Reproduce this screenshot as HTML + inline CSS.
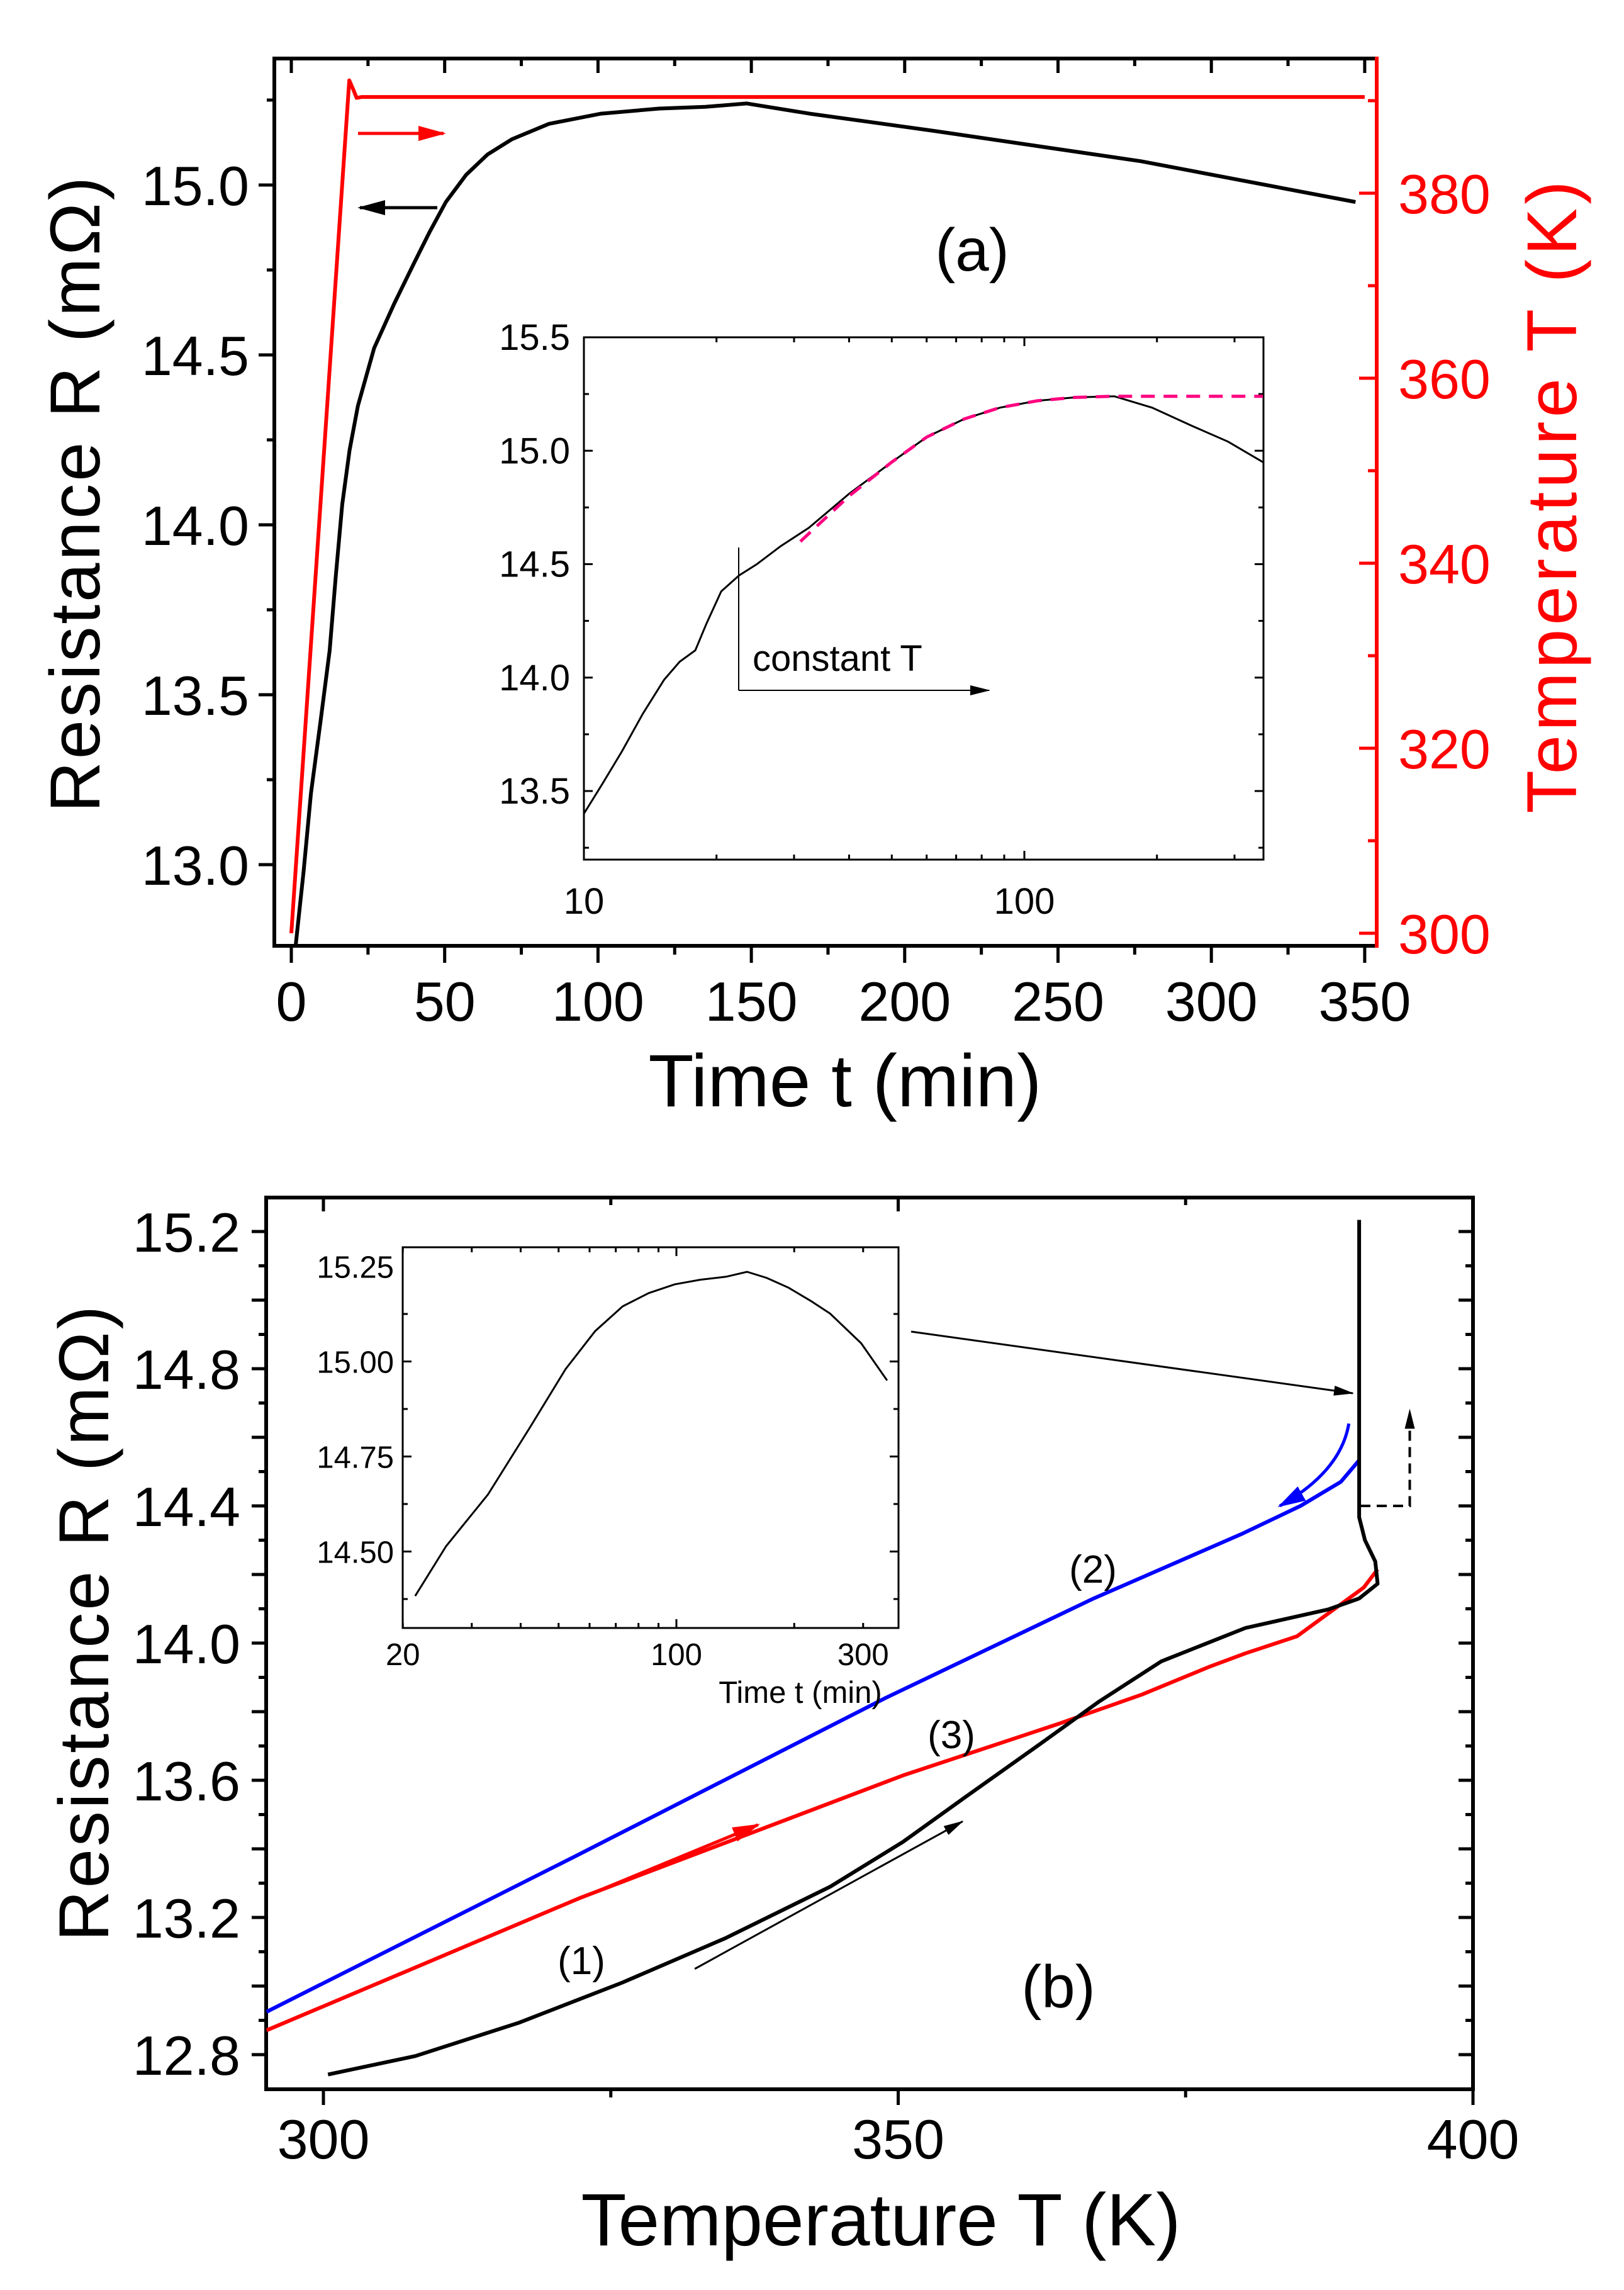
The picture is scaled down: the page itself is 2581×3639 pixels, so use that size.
<!DOCTYPE html>
<html><head><meta charset="utf-8"><style>
html,body{margin:0;padding:0;background:#fff;}
svg{display:block;font-family:"Liberation Sans",sans-serif;}
</style></head><body>
<svg id="fig" width="2581" height="3639" viewBox="0 0 2581 3639" xmlns="http://www.w3.org/2000/svg">
<defs>
<marker id="ahR" markerWidth="44" markerHeight="24" refX="40" refY="12" orient="auto" markerUnits="userSpaceOnUse" viewBox="0 0 44 24"><path d="M0,0 L44,12 L0,24 Z" fill="#ff0000"/></marker>
<marker id="ahK" markerWidth="44" markerHeight="24" refX="40" refY="12" orient="auto" markerUnits="userSpaceOnUse" viewBox="0 0 44 24"><path d="M0,0 L44,12 L0,24 Z" fill="#000"/></marker>
<marker id="ahKs" markerWidth="32" markerHeight="16" refX="30" refY="8" orient="auto" markerUnits="userSpaceOnUse" viewBox="0 0 32 16"><path d="M0,0 L32,8 L0,16 Z" fill="#000"/></marker>
<marker id="ahB" markerWidth="44" markerHeight="26" refX="40" refY="13" orient="auto" markerUnits="userSpaceOnUse" viewBox="0 0 44 26"><path d="M0,0 L44,13 L0,26 Z" fill="#0000ff"/></marker>
</defs>
</svg>
<script>
// ===== Panel (a) data =====
const aTime = [1.4, 4, 6.4, 9.5, 12.5, 14.5, 16.6, 19, 21.7, 27, 33.5, 40, 45, 50.4, 57, 64, 72, 84, 101, 120, 135, 148.5, 169, 209, 277, 347];
const aRes = [12.76, 12.98, 13.21, 13.42, 13.63, 13.85, 14.06, 14.22, 14.35, 14.52, 14.65, 14.77, 14.86, 14.95, 15.03, 15.09, 15.135, 15.18, 15.21, 15.225, 15.23, 15.24, 15.21, 15.16, 15.07, 14.95];
const aTTime = [0, 18.9, 20.2, 21.3, 23, 100, 200, 350];
const aTemp = [300, 392.2, 391.2, 390.3, 390.4, 390.4, 390.4, 390.4];
const aXTicks = [0, 50, 100, 150, 200, 250, 300, 350];
const aYTicks = [13.0, 13.5, 14.0, 14.5, 15.0];
const aTTicks = [300, 320, 340, 360, 380];
// inset (a)
const iaTime = [10, 11, 12.2, 13.6, 15.2, 16.5, 17.9, 19, 20.5, 22.5, 24.7, 28, 32.4, 40, 50, 60, 73, 88, 107, 130, 160, 195, 240, 290, 348];
const iaRes = [13.40, 13.53, 13.675, 13.84, 13.99, 14.07, 14.12, 14.24, 14.38, 14.45, 14.50, 14.58, 14.66, 14.81, 14.95, 15.06, 15.14, 15.19, 15.22, 15.235, 15.24, 15.19, 15.11, 15.04, 14.95];
const iaFitTime = [31, 40, 50, 60, 73, 88, 107, 130, 160, 348];
const iaFitRes = [14.60, 14.80, 14.95, 15.06, 15.14, 15.19, 15.22, 15.235, 15.24, 15.24];
const iaYTicks = [13.5, 14.0, 14.5, 15.0, 15.5];
const iaXTicks = [10, 100];
// ===== Panel (b) data =====
const bBlueT = [295.06, 322, 348.9, 367, 380, 385, 388.5, 390.1];
const bBlueR = [12.925, 13.38, 13.84, 14.13, 14.32, 14.40, 14.47, 14.533];
const bRedT = [295.06, 322.4, 350.4, 363.9, 371.2, 377, 380.2, 384.7, 388.3, 390.5, 391.7];
const bRedR = [12.871, 13.258, 13.614, 13.764, 13.85, 13.93, 13.97, 14.02, 14.108, 14.162, 14.215];
const bBlackT = [300.4, 308, 317, 326, 335, 344.1, 350.4, 355.8, 362.1, 367.5, 372.9, 380.2, 387.4, 390.1, 391.7, 391.5, 390.6, 390.1, 390.1];
const bBlackR = [12.742, 12.796, 12.893, 13.01, 13.14, 13.29, 13.42, 13.55, 13.70, 13.83, 13.947, 14.044, 14.098, 14.13, 14.173, 14.238, 14.30, 14.367, 15.234];
const bXTicks = [300, 350, 400];
const bYTicks = [12.8, 13.2, 13.6, 14.0, 14.4, 14.8, 15.2];
// inset (b)
const ibTime = [21.5, 25.8, 33.0, 42.1, 52.1, 62, 72.9, 85, 99, 115, 134, 151.5, 170, 193.5, 220, 247, 296.5, 345.5];
const ibRes = [14.383, 14.514, 14.65, 14.824, 14.98, 15.08, 15.145, 15.18, 15.203, 15.215, 15.223, 15.236, 15.22, 15.194, 15.16, 15.126, 15.048, 14.95];
const ibYTicks = [14.50, 14.75, 15.00, 15.25];
const ibXTicks = [20, 100, 300];

const NS = "http://www.w3.org/2000/svg";
const svg = document.getElementById('fig');
function mk(tag, attrs, parent) {
  const e = document.createElementNS(NS, tag);
  for (const k in attrs) e.setAttribute(k, attrs[k]);
  (parent || svg).appendChild(e);
  return e;
}
function ln(x1, y1, x2, y2, c, w) {
  return mk('line', {x1: x1, y1: y1, x2: x2, y2: y2, stroke: c, 'stroke-width': w});
}
function tx(x, y, s, size, anchor, color) {
  const e = mk('text', {x: x, y: y, 'font-size': size, 'text-anchor': anchor || 'middle', fill: color || '#000'});
  e.textContent = s;
  return e;
}
function pathFrom(xs, ys, fx, fy) {
  return xs.map((v, i) => (i ? 'L' : 'M') + fx(v).toFixed(1) + ',' + fy(ys[i]).toFixed(1)).join(' ');
}

// ===== Panel (a) scales =====
const ax = t => 463 + t * 4.874;
const ay = r => 294 + (15.0 - r) * 540;
const aT = T => 1483 - (T - 300) * 14.7;
const aL = 436, aR = 2188, aTop = 93, aBot = 1503;

let e;
for (let t = 0; t <= 350; t += 25) {
  const major = t % 50 === 0;
  e = ln(ax(t), aBot, ax(t), aBot + (major ? 27 : 14), '#000', 5);
  
  
  e = ln(ax(t), aTop, ax(t), aTop + (major ? 23 : 12), '#000', 5);
  
  
}
for (let r = 13.0; r <= 15.26; r += 0.25) {
  const major = Math.abs(r * 2 - Math.round(r * 2)) < 1e-6;
  e = ln(aL - (major ? 25 : 12), ay(r), aL, ay(r), '#000', 5);
  
  
}
for (let T = 300; T <= 390; T += 10) {
  const major = T % 20 === 0;
  e = ln(aR - (major ? 28 : 14), aT(T), aR, aT(T), '#ff0000', 5);
  
  
}
e = mk('path', {d: `M${aR},${aTop} L${aL},${aTop} L${aL},${aBot} L${aR},${aBot}`, fill: 'none', stroke: '#000', 'stroke-width': 6});


e = ln(aR, aTop - 3, aR, aBot + 3, '#ff0000', 6);



aXTicks.forEach(v => {
  e = tx(ax(v), 1622, String(v), 88);
  
  
});
aYTicks.forEach(v => {
  e = tx(396, ay(v) + 32, v.toFixed(1), 88, 'end');
  
  
});
aTTicks.forEach(v => {
  e = tx(2222, aT(v) + 32, String(v), 88, 'start', '#ff0000');
  
  
});
e = tx(1343, 1758, 'Time t (min)', 118);


e = tx(0, 0, 'Resistance R  (mΩ)', 112);
e.setAttribute('transform', 'translate(158,786) rotate(-90)');
e.setAttribute('textLength', '1010');


e = tx(0, 0, 'Temperature T (K)', 112, 'middle', '#ff0000');
e.setAttribute('transform', 'translate(2505,790) rotate(-90)');
e.setAttribute('textLength', '1005');


e = tx(1545, 430, '(a)', 96);



e = mk('path', {d: pathFrom(aTTime, aTemp, ax, aT), fill: 'none', stroke: '#ff0000', 'stroke-width': 6, 'stroke-linejoin': 'round'});


e = mk('path', {d: pathFrom(aTime, aRes, ax, ay), fill: 'none', stroke: '#000', 'stroke-width': 6, 'stroke-linejoin': 'round'});


e = ln(569, 212, 705, 212, '#ff0000', 5);
e.setAttribute('marker-end', 'url(#ahR)');


e = ln(695, 330, 572, 330, '#000', 5);
e.setAttribute('marker-end', 'url(#ahK)');



// ===== Inset (a) =====
const iaL = 928, iaR = 2008, iaTop = 536, iaBot = 1366;
const iax = t => 928 + (Math.log10(t) - 1) * 700;
const iay = r => 536 + (15.5 - r) * 360.5;
e = mk('rect', {x: iaL, y: iaTop, width: iaR - iaL, height: iaBot - iaTop, fill: '#fff', stroke: '#000', 'stroke-width': 3});


for (let r = 13.25; r <= 15.5; r += 0.25) {
  const major = Math.abs(r * 2 - Math.round(r * 2)) < 1e-6;
  const L = major ? 14 : 8;
  e = ln(iaL, iay(r), iaL + L, iay(r), '#000', 3);
  
  
  e = ln(iaR - L, iay(r), iaR, iay(r), '#000', 3);
  
  
}
[10,20,30,40,50,60,70,80,90,100,200,300].forEach(t => {
  const L = (t === 10 || t === 100) ? 14 : 8;
  e = ln(iax(t), iaBot, iax(t), iaBot - L, '#000', 3);
  
  
  e = ln(iax(t), iaTop, iax(t), iaTop + L, '#000', 3);
  
  
});
iaYTicks.forEach(v => {
  e = tx(906, iay(v) + 20, v.toFixed(1), 58, 'end');
  
  
});
iaXTicks.forEach(v => {
  e = tx(iax(v), 1452, String(v), 58);
  
  
});
e = mk('path', {d: pathFrom(iaTime, iaRes, iax, iay), fill: 'none', stroke: '#000', 'stroke-width': 3});


e = mk('path', {d: pathFrom(iaFitTime, iaFitRes, iax, iay), fill: 'none', stroke: '#ff0080', 'stroke-width': 5, 'stroke-dasharray': '22 14'});


e = ln(1174, 870, 1174, 1097, '#000', 2);


e = ln(1174, 1097, 1572, 1097, '#000', 2);
e.setAttribute('marker-end', 'url(#ahKs)');


e = tx(1196, 1066, 'constant T', 58, 'start');



// ===== Panel (b) =====
const bx = T => 514 + (T - 300) * 18.27;
const by = r => 1957 + (15.2 - r) * 545;
const bL = 423, bR = 2341, bTop = 1903, bBot = 3320;
for (let T = 300; T <= 400; T += 25) {
  const major = T % 50 === 0;
  e = ln(bx(T), bBot, bx(T), bBot + (major ? 25 : 13), '#000', 5);
  
  
  e = ln(bx(T), bTop, bx(T), bTop + (major ? 22 : 12), '#000', 5);
  
  
}
for (let k = 0; k <= 24; k++) {
  const r = 12.8 + k * 0.1;
  const major = k % 2 === 0;
  e = ln(bL - (major ? 23 : 12), by(r), bL, by(r), '#000', 5);
  
  
  e = ln(bR - (major ? 23 : 12), by(r), bR, by(r), '#000', 5);
  
  
}
e = mk('rect', {x: bL, y: bTop, width: bR - bL, height: bBot - bTop, fill: 'none', stroke: '#000', 'stroke-width': 6});


bXTicks.forEach(v => {
  e = tx(bx(v), 3430, String(v), 88);
  
  
});
bYTicks.forEach(v => {
  e = tx(382, by(v) + 32, v.toFixed(1), 88, 'end');
  
  
});
e = tx(1400, 3568, 'Temperature T (K)', 118);


e = tx(0, 0, 'Resistance R  (mΩ)', 112);
e.setAttribute('transform', 'translate(172,2580) rotate(-90)');
e.setAttribute('textLength', '1010');



e = mk('path', {d: pathFrom(bBlueT, bBlueR, bx, by), fill: 'none', stroke: '#0000ff', 'stroke-width': 6, 'stroke-linejoin': 'round'});


e = mk('path', {d: pathFrom(bRedT, bRedR, bx, by), fill: 'none', stroke: '#ff0000', 'stroke-width': 6, 'stroke-linejoin': 'round'});


e = mk('path', {d: pathFrom(bBlackT, bBlackR, bx, by), fill: 'none', stroke: '#000', 'stroke-width': 6, 'stroke-linejoin': 'round'});


e = mk('path', {d: `M${bx(389.2)},${by(14.64)} Q${bx(388.5)},${by(14.50)} ${bx(383.2)},${by(14.40)}`, fill: 'none', stroke: '#0000ff', 'stroke-width': 5});
e.setAttribute('marker-end', 'url(#ahB)');


e = ln(bx(321.9), by(13.25), bx(337.8), by(13.47), '#ff0000', 5);
e.setAttribute('marker-end', 'url(#ahR)');


e = ln(bx(332.3), by(13.05), bx(355.6), by(13.48), '#000', 3);
e.setAttribute('marker-end', 'url(#ahKs)');


e = ln(1448, 2116, 2150, 2214, '#000', 3);
e.setAttribute('marker-end', 'url(#ahKs)');


e = mk('path', {d: `M${bx(390.2)},${by(14.4)} L${bx(394.5)},${by(14.4)} L${bx(394.5)},${by(14.68)}`, fill: 'none', stroke: '#000', 'stroke-width': 4, 'stroke-dasharray': '16 10'});
e.setAttribute('marker-end', 'url(#ahKs)');


e = tx(1737, 2515, '(2)', 62);


e = tx(1512, 2778, '(3)', 62);


e = tx(924, 3137, '(1)', 62);


e = tx(1682, 3190, '(b)', 96);



// ===== Inset (b) =====
const ibL = 640, ibR = 1428, ibTop = 1982, ibBot = 2587;
const ibx = t => 1075 + Math.log10(t / 100) * 622;
const iby = r => 2012.5 + (15.25 - r) * 604;
e = mk('rect', {x: ibL, y: ibTop, width: ibR - ibL, height: ibBot - ibTop, fill: '#fff', stroke: '#000', 'stroke-width': 3});


for (let k = 0; k <= 6; k++) {
  const r = 14.375 + k * 0.125;
  const major = k % 2 === 1;
  const L = major ? 14 : 8;
  e = ln(ibL, iby(r), ibL + L, iby(r), '#000', 3);
  
  
  e = ln(ibR - L, iby(r), ibR, iby(r), '#000', 3);
  
  
}
[20,30,40,50,60,70,80,90,100,200,300].forEach(t => {
  const L = (t === 100) ? 14 : 8;
  e = ln(ibx(t), ibBot, ibx(t), ibBot - L, '#000', 3);
  
  
  e = ln(ibx(t), ibTop, ibx(t), ibTop + L, '#000', 3);
  
  
});
ibYTicks.forEach(v => {
  e = tx(626, iby(v) + 18, v.toFixed(2), 49, 'end');
  
  
});
ibXTicks.forEach(v => {
  e = tx(ibx(v), 2646, String(v), 49);
  
  
});
e = tx(1272, 2706, 'Time t (min)', 49);


e = mk('path', {d: pathFrom(ibTime, ibRes, ibx, iby), fill: 'none', stroke: '#000', 'stroke-width': 3});


</script>
</body></html>
